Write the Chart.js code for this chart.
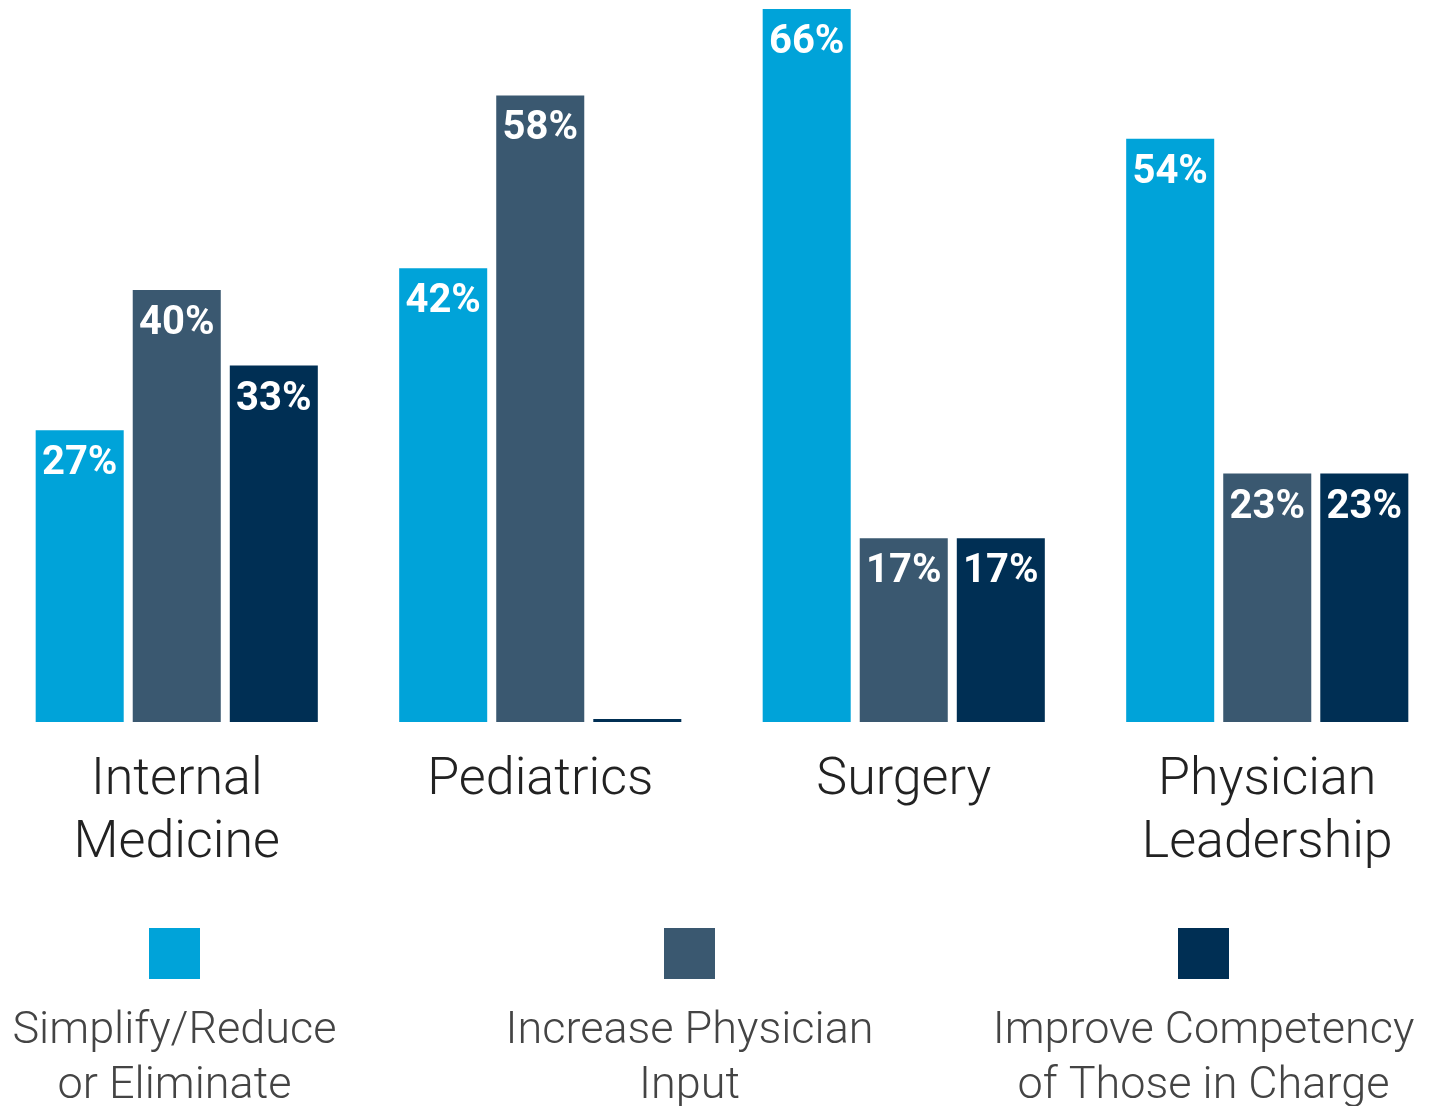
<!DOCTYPE html>
<html>
<head>
<meta charset="utf-8">
<script src="https://cdn.jsdelivr.net/npm/chart.js@4/dist/chart.umd.min.js"></script>
<style>
  html, body { margin: 0; padding: 0; background: #ffffff; overflow: hidden; }
  #wrap { position: absolute; left: -5px; top: 0; width: 1454px; height: 1106px; }
</style>
</head>
<body>
<div id="wrap"><canvas id="chart" width="1454" height="1106"></canvas></div>
<script>
// Specialties surveyed (multi-line labels)
const categories = [
  ['Internal', 'Medicine'],
  ['Pediatrics'],
  ['Surgery'],
  ['Physician', 'Leadership']
];

// Share of respondents (%) choosing each remedy
const simplifyValues   = [27, 42, 66, 54];
const inputValues      = [40, 58, 17, 23];
const competencyValues = [33, 0, 17, 23];

const seriesNames = [
  ['Simplify/Reduce', 'or Eliminate'],
  ['Increase Physician', 'Input'],
  ['Improve Competency', 'of Those in Charge']
];

const colors = ['#00A3D9', '#3A5870', '#002F54'];

// White percentage labels drawn inside the top of each bar
const valueLabels = {
  id: 'valueLabels',
  afterDatasetsDraw(chart) {
    const ctx = chart.ctx;
    ctx.save();
    ctx.fillStyle = '#ffffff';
    ctx.font = 'bold 40px Roboto';
    ctx.textAlign = 'center';
    ctx.textBaseline = 'alphabetic';
    chart.data.datasets.forEach((ds, di) => {
      const meta = chart.getDatasetMeta(di);
      meta.data.forEach((bar, i) => {
        const v = ds.data[i];
        if (!v) return;
        ctx.fillText(v + '%', bar.x, bar.y + 44);
      });
    });
    ctx.restore();
  }
};

// Legend: swatch above a centred two-line caption
const swatchLegend = {
  id: 'swatchLegend',
  afterDraw(chart) {
    const ctx = chart.ctx;
    const centers = [179.5, 694.5, 1208.5];
    ctx.save();
    chart.data.datasets.forEach((ds, i) => {
      const cx = centers[i];
      ctx.fillStyle = ds.backgroundColor;
      ctx.fillRect(cx - 25.5, 928, 51, 51);
      ctx.fillStyle = '#444444';
      ctx.font = '300 45px Roboto';
      ctx.textAlign = 'center';
      ctx.textBaseline = 'alphabetic';
      ds.label.forEach((line, li) => {
        ctx.fillText(line, cx, 1043 + li * 55);
      });
    });
    ctx.restore();
  }
};

const datasetValues = [simplifyValues, inputValues, competencyValues];

new Chart(document.getElementById('chart'), {
  type: 'bar',
  data: {
    labels: categories,
    datasets: datasetValues.map((vals, i) => ({
      label: seriesNames[i],
      data: vals,
      backgroundColor: colors[i],
      borderWidth: 0,
      minBarLength: 3,
      categoryPercentage: 0.801,
      barPercentage: 0.907
    }))
  },
  options: {
    responsive: false,
    animation: false,
    events: [],
    layout: { padding: { top: 9, left: 0, right: 0, bottom: 0 } },
    plugins: {
      legend: { display: false },
      tooltip: { enabled: false }
    },
    scales: {
      x: {
        grid: { display: false, drawTicks: false },
        border: { display: false },
        ticks: {
          color: '#222222',
          font: { family: 'Roboto', weight: 300, size: 52, lineHeight: 1.2 },
          padding: 28,
          maxRotation: 0,
          autoSkip: false
        },
        afterFit(scale) { scale.height = 384; }
      },
      y: {
        display: false,
        min: 0,
        max: 66
      }
    }
  },
  plugins: [valueLabels, swatchLegend]
});
</script>
</body>
</html>
